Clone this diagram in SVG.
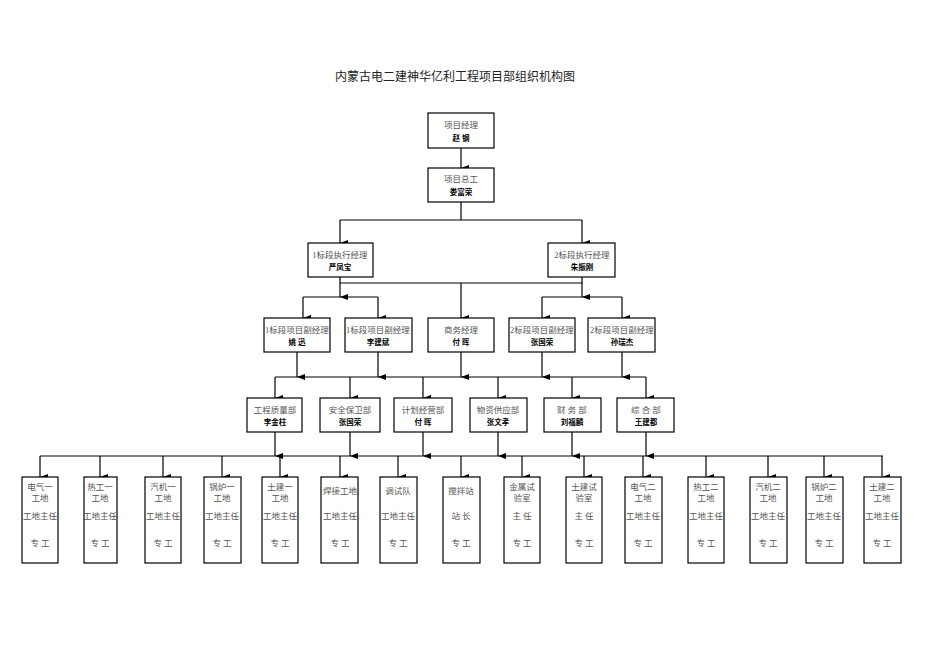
<svg xmlns="http://www.w3.org/2000/svg" width="950" height="672" viewBox="0 0 950 672">
<style>
rect{fill:#fff;stroke:#000;stroke-width:1.2}
text{font-family:"Liberation Serif","Noto Sans CJK SC",serif;text-anchor:middle}
.t{font-size:8.5px;fill:#555}
.n{font-size:7.5px;font-weight:bold;fill:#000}
.c path{fill:none;stroke:#000;stroke-width:1.2}
</style>
<defs><marker id="a" markerWidth="6" markerHeight="8" refX="3" refY="8" orient="auto" markerUnits="userSpaceOnUse"><path d="M0,0L6,0L3,8z" fill="#000"/></marker></defs>
<text x="455" y="81" style="font-size:12px;fill:#222">内蒙古电二建神华亿利工程项目部组织机构图</text>
<g class="c">
<path d="M461,148V168" marker-end="url(#a)"/>
<path d="M461,202V220"/><path d="M340,220H582"/>
<path d="M340,220V243" marker-end="url(#a)"/><path d="M582,220V243" marker-end="url(#a)"/>
<path d="M340,277V283H582V277"/><path d="M340,283V297" marker-end="url(#a)"/><path d="M582,283V297" marker-end="url(#a)"/>
<path d="M461,283V318" marker-end="url(#a)"/>
<path d="M303,297H378"/><path d="M542,297H622"/>
<path d="M303,297V318" marker-end="url(#a)"/><path d="M378,297V318" marker-end="url(#a)"/>
<path d="M542,297V318" marker-end="url(#a)"/><path d="M622,297V318" marker-end="url(#a)"/>
<path d="M297,352V377" marker-end="url(#a)"/><path d="M378,352V377" marker-end="url(#a)"/><path d="M461,352V377" marker-end="url(#a)"/><path d="M542,352V377" marker-end="url(#a)"/><path d="M622,352V377" marker-end="url(#a)"/>
<path d="M275,377H646"/>
<path d="M275,377V398" marker-end="url(#a)"/><path d="M350,377V398" marker-end="url(#a)"/><path d="M423,377V398" marker-end="url(#a)"/><path d="M498,377V398" marker-end="url(#a)"/><path d="M572,377V398" marker-end="url(#a)"/><path d="M646,377V398" marker-end="url(#a)"/>
<path d="M275,432V456" marker-end="url(#a)"/><path d="M350,432V456" marker-end="url(#a)"/><path d="M423,432V456" marker-end="url(#a)"/><path d="M498,432V456" marker-end="url(#a)"/><path d="M572,432V456" marker-end="url(#a)"/><path d="M646,432V456" marker-end="url(#a)"/>
<path d="M40,456H883"/>
<path d="M40,456V477" marker-end="url(#a)"/><path d="M100,456V477" marker-end="url(#a)"/><path d="M163,456V477" marker-end="url(#a)"/><path d="M222,456V477" marker-end="url(#a)"/><path d="M280,456V477" marker-end="url(#a)"/><path d="M340,456V477" marker-end="url(#a)"/><path d="M398,456V477" marker-end="url(#a)"/><path d="M461,456V477" marker-end="url(#a)"/><path d="M522,456V477" marker-end="url(#a)"/><path d="M584,456V477" marker-end="url(#a)"/><path d="M643,456V477" marker-end="url(#a)"/><path d="M706,456V477" marker-end="url(#a)"/><path d="M768,456V477" marker-end="url(#a)"/><path d="M824,456V477" marker-end="url(#a)"/><path d="M882,456V477" marker-end="url(#a)"/>
</g>
<g id="pm"><rect x="428" y="113" width="66" height="35"/><text class="t" x="461" y="128">项目经理</text><text class="n" x="461" y="141">赵 钢</text></g>
<g id="ce"><rect x="428" y="168" width="66" height="34"/><text class="t" x="461" y="182">项目总工</text><text class="n" x="461" y="195">娄富荣</text></g>
<g id="e1"><rect x="308" y="243" width="65" height="34"/><text class="t" x="340" y="258">1标段执行经理</text><text class="n" x="340" y="270">严凤宝</text></g>
<g id="e2"><rect x="548" y="243" width="67" height="34"/><text class="t" x="582" y="258">2标段执行经理</text><text class="n" x="582" y="270">朱振刚</text></g>
<g id="d1"><rect x="264" y="318" width="66" height="34"/><text class="t" x="297" y="333">1标段项目副经理</text><text class="n" x="297" y="345">姚 迅</text></g>
<g id="d2"><rect x="345" y="318" width="67" height="34"/><text class="t" x="378" y="333">1标段项目副经理</text><text class="n" x="378" y="345">李建斌</text></g>
<g id="bm"><rect x="428" y="318" width="66" height="34"/><text class="t" x="461" y="333">商务经理</text><text class="n" x="461" y="345">付 晖</text></g>
<g id="d3"><rect x="509" y="318" width="66" height="34"/><text class="t" x="542" y="333">2标段项目副经理</text><text class="n" x="542" y="345">张国荣</text></g>
<g id="d4"><rect x="588" y="318" width="67" height="34"/><text class="t" x="622" y="333">2标段项目副经理</text><text class="n" x="622" y="345">孙瑞杰</text></g>
<g id="q"><rect x="247" y="398" width="55" height="34"/><text class="t" x="275" y="413">工程质量部</text><text class="n" x="275" y="425">李金柱</text></g>
<g id="s"><rect x="320" y="398" width="60" height="34"/><text class="t" x="350" y="413">安全保卫部</text><text class="n" x="350" y="425">张国荣</text></g>
<g id="p"><rect x="394" y="398" width="58" height="34"/><text class="t" x="423" y="413">计划经营部</text><text class="n" x="423" y="425">付 晖</text></g>
<g id="m"><rect x="470" y="398" width="57" height="34"/><text class="t" x="498" y="413">物资供应部</text><text class="n" x="498" y="425">张文孝</text></g>
<g id="f"><rect x="544" y="398" width="57" height="34"/><text class="t" x="572" y="413">财 务 部</text><text class="n" x="572" y="425">刘福麟</text></g>
<g id="g"><rect x="617" y="398" width="57" height="34"/><text class="t" x="646" y="413">综 合 部</text><text class="n" x="646" y="425">王建都</text></g>
<g id="w1"><rect x="22" y="477" width="36" height="86"/><text class="t" x="40" y="490">电气一</text><text class="t" x="40" y="501">工地</text><text class="t" x="40" y="519">工地主任</text><text class="t" x="40" y="546">专 工</text></g>
<g id="w2"><rect x="84" y="477" width="33" height="86"/><text class="t" x="100" y="490">热工一</text><text class="t" x="100" y="501">工地</text><text class="t" x="100" y="519">工地主任</text><text class="t" x="100" y="546">专 工</text></g>
<g id="w3"><rect x="145" y="477" width="36" height="86"/><text class="t" x="163" y="490">汽机一</text><text class="t" x="163" y="501">工地</text><text class="t" x="163" y="519">工地主任</text><text class="t" x="163" y="546">专 工</text></g>
<g id="w4"><rect x="204" y="477" width="37" height="86"/><text class="t" x="222" y="490">锅炉一</text><text class="t" x="222" y="501">工地</text><text class="t" x="222" y="519">工地主任</text><text class="t" x="222" y="546">专 工</text></g>
<g id="w5"><rect x="262" y="477" width="36" height="86"/><text class="t" x="280" y="490">土建一</text><text class="t" x="280" y="501">工地</text><text class="t" x="280" y="519">工地主任</text><text class="t" x="280" y="546">专 工</text></g>
<g id="w6"><rect x="321" y="477" width="37" height="86"/><text class="t" x="340" y="494">焊接工地</text><text class="t" x="340" y="519">工地主任</text><text class="t" x="340" y="546">专 工</text></g>
<g id="w7"><rect x="380" y="477" width="37" height="86"/><text class="t" x="398" y="494">调试队</text><text class="t" x="398" y="519">工地主任</text><text class="t" x="398" y="546">专 工</text></g>
<g id="w8"><rect x="443" y="477" width="37" height="86"/><text class="t" x="461" y="494">搅拌站</text><text class="t" x="461" y="519">站 长</text><text class="t" x="461" y="546">专 工</text></g>
<g id="w9"><rect x="504" y="477" width="36" height="86"/><text class="t" x="522" y="490">金属试</text><text class="t" x="522" y="501">验室</text><text class="t" x="522" y="519">主 任</text><text class="t" x="522" y="546">专 工</text></g>
<g id="w10"><rect x="566" y="477" width="36" height="86"/><text class="t" x="584" y="490">土建试</text><text class="t" x="584" y="501">验室</text><text class="t" x="584" y="519">主 任</text><text class="t" x="584" y="546">专 工</text></g>
<g id="w11"><rect x="625" y="477" width="37" height="86"/><text class="t" x="643" y="490">电气二</text><text class="t" x="643" y="501">工地</text><text class="t" x="643" y="519">工地主任</text><text class="t" x="643" y="546">专 工</text></g>
<g id="w12"><rect x="688" y="477" width="36" height="86"/><text class="t" x="706" y="490">热工二</text><text class="t" x="706" y="501">工地</text><text class="t" x="706" y="519">工地主任</text><text class="t" x="706" y="546">专 工</text></g>
<g id="w13"><rect x="750" y="477" width="37" height="86"/><text class="t" x="768" y="490">汽机二</text><text class="t" x="768" y="501">工地</text><text class="t" x="768" y="519">工地主任</text><text class="t" x="768" y="546">专 工</text></g>
<g id="w14"><rect x="806" y="477" width="37" height="86"/><text class="t" x="824" y="490">锅炉二</text><text class="t" x="824" y="501">工地</text><text class="t" x="824" y="519">工地主任</text><text class="t" x="824" y="546">专 工</text></g>
<g id="w15"><rect x="864" y="477" width="37" height="86"/><text class="t" x="882" y="490">土建二</text><text class="t" x="882" y="501">工地</text><text class="t" x="882" y="519">工地主任</text><text class="t" x="882" y="546">专 工</text></g>
</svg>
